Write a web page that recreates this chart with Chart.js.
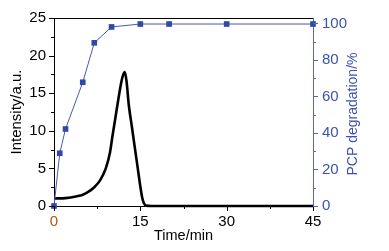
<!DOCTYPE html>
<html>
<head>
<meta charset="utf-8">
<script src="https://cdn.jsdelivr.net/npm/chart.js@4/dist/chart.umd.min.js"></script>
<style>
  html, body { margin: 0; padding: 0; background: #fff; }
  #wrap { width: 389px; height: 251px; }
</style>
</head>
<body>
<div id="wrap"><canvas id="grafico" width="389" height="251"></canvas></div>
<script>
// Intensity curve (black)
const tempoCurva = [0, 2, 4, 5, 6, 7, 8, 9, 9.7, 10.2, 10.6, 11.2, 11.7, 12.0, 12.3, 12.6, 13.0, 13.5, 14.0, 14.5, 15.0, 15.3, 15.6, 16.0, 17.0, 45];
const intensidade = [1.0, 1.05, 1.3, 1.5, 1.9, 2.5, 3.4, 5.0, 7.0, 9.5, 11.4, 14.3, 16.5, 17.4, 17.8, 16.6, 13.4, 10.7, 8.0, 5.3, 2.6, 1.2, 0.4, 0.05, 0, 0];

// PCP degradation (blue)
const tempoPCP = [0, 1, 2, 5, 7, 10, 15, 20, 30, 45];
const degradacao = [0, 28.9, 42.2, 67.8, 89.4, 98.1, 99.7, 99.7, 99.7, 99.7];

// ticks
const xMaior = [0, 15, 30, 45];
const xMenor = [7.5, 22.5, 37.5];
const yEsqMaior = [0, 5, 10, 15, 20, 25];
const yEsqMenor = [2.5, 7.5, 12.5, 17.5, 22.5];
const yDirMaior = [0, 20, 40, 60, 80, 100];
const yDirMenor = [10, 30, 50, 70, 90];

const azul = '#3d52ad';
const azulEixo = '#5667b8';
const fonte = 'Liberation Sans, Arial, sans-serif';

const pontos = (xs, ys) => xs.map((x, i) => ({ x: x, y: ys[i] }));

// minor/major ticks, top border, right title
const eixosPlugin = {
    id: 'eixos',
    afterDraw(chart) {
        const ctx = chart.ctx;
        const a = chart.chartArea;
        const sx = chart.scales.x, yl = chart.scales.y, yr = chart.scales.y2;
        ctx.save();
        ctx.lineWidth = 1;
        ctx.strokeStyle = '#000';
        ctx.beginPath();
        ctx.moveTo(a.left, a.top + 0.5);
        ctx.lineTo(a.right, a.top + 0.5);
        xMaior.forEach(v => { const p = Math.round(sx.getPixelForValue(v)) + 0.5; ctx.moveTo(p, a.bottom); ctx.lineTo(p, a.bottom + 5); });
        xMenor.forEach(v => { const p = Math.round(sx.getPixelForValue(v)) + 0.5; ctx.moveTo(p, a.bottom); ctx.lineTo(p, a.bottom + 3); });
        yEsqMaior.forEach(v => { const p = Math.round(yl.getPixelForValue(v)) + 0.5; ctx.moveTo(a.left, p); ctx.lineTo(a.left - 5, p); });
        yEsqMenor.forEach(v => { const p = Math.round(yl.getPixelForValue(v)) + 0.5; ctx.moveTo(a.left, p); ctx.lineTo(a.left - 3, p); });
        ctx.stroke();
        ctx.strokeStyle = azulEixo;
        ctx.beginPath();
        yDirMaior.forEach(v => { const p = Math.round(yr.getPixelForValue(v)) + 0.5; ctx.moveTo(a.right, p); ctx.lineTo(a.right + 5, p); });
        yDirMenor.forEach(v => { const p = Math.round(yr.getPixelForValue(v)) + 0.5; ctx.moveTo(a.right, p); ctx.lineTo(a.right + 3, p); });
        ctx.stroke();
        // right title, reading bottom to top
        ctx.translate(353, (a.top + a.bottom) / 2 + 2);
        ctx.rotate(-Math.PI / 2);
        ctx.fillStyle = azul;
        ctx.font = '14px ' + fonte;
        ctx.textAlign = 'center';
        ctx.textBaseline = 'middle';
        ctx.fillText('PCP degradation/%', 0, 0);
        ctx.restore();
    }
};

const ctx = document.getElementById('grafico').getContext('2d');
new Chart(ctx, {
    type: 'line',
    data: {
        datasets: [{
            label: 'Intensity',
            data: pontos(tempoCurva, intensidade),
            yAxisID: 'y',
            borderColor: '#000',
            borderWidth: 2.6,
            pointRadius: 0,
            cubicInterpolationMode: 'monotone',
            clip: false,
            order: 2
        }, {
            label: 'PCP degradation',
            data: pontos(tempoPCP, degradacao),
            yAxisID: 'y2',
            borderColor: '#4659b3',
            borderWidth: 1,
            pointStyle: 'rect',
            pointRadius: 4,
            pointBorderWidth: 0,
            pointBackgroundColor: '#2f4aa6',
            clip: false,
            order: 1
        }]
    },
    options: {
        responsive: false,
        animation: false,
        layout: { padding: { top: 15, left: 0, right: 0, bottom: 0 } },
        plugins: {
            legend: { display: false },
            tooltip: { enabled: false }
        },
        scales: {
            x: {
                type: 'linear',
                min: 0,
                max: 45,
                afterBuildTicks: s => { s.ticks = xMaior.map(v => ({ value: v })); },
                afterFit: s => { s.height = 45; },
                grid: { display: false, drawTicks: false },
                border: { color: '#000', width: 1 },
                ticks: {
                    padding: 7,
                    color: c => c.tick && c.tick.value === 0 ? '#a85a14' : '#000',
                    font: { family: fonte, size: 15 }
                },
                title: {
                    display: true,
                    text: 'Time/min',
                    color: '#000',
                    font: { family: fonte, size: 14.5 },
                    padding: { top: 0, bottom: 6 }
                }
            },
            y: {
                position: 'left',
                min: 0,
                max: 25,
                afterBuildTicks: s => { s.ticks = yEsqMaior.map(v => ({ value: v })); },
                afterFit: s => { s.width = 54; },
                grid: { display: false, drawTicks: false },
                border: { color: '#000', width: 1 },
                ticks: {
                    padding: 8,
                    color: '#000',
                    font: { family: fonte, size: 15 }
                },
                title: {
                    display: true,
                    text: 'Intensity/a.u.',
                    color: '#000',
                    font: { family: fonte, size: 15 },
                    padding: { top: 8, bottom: 0 }
                }
            },
            y2: {
                position: 'right',
                min: 0,
                max: 103,
                afterBuildTicks: s => { s.ticks = yDirMaior.map(v => ({ value: v })); },
                afterFit: s => { s.width = 76; },
                grid: { display: false, drawTicks: false },
                border: { color: azulEixo, width: 1 },
                ticks: {
                    padding: 9,
                    color: azul,
                    font: { family: fonte, size: 15 }
                }
            }
        }
    },
    plugins: [eixosPlugin]
});
</script>
</body>
</html>
